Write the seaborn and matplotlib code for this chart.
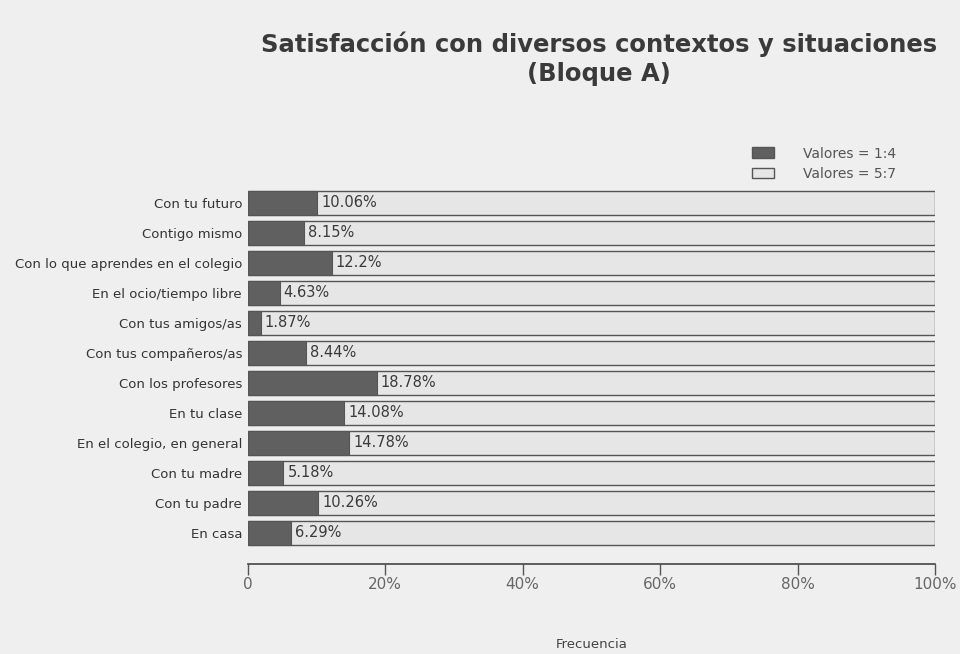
import matplotlib
matplotlib.use("Agg")
import matplotlib.pyplot as plt
import seaborn as sns
import pandas as pd
from matplotlib.patches import Patch

categorias = ["Con tu futuro", "Contigo mismo", "Con lo que aprendes en el colegio",
              "En el ocio/tiempo libre", "Con tus amigos/as", "Con tus compañeros/as",
              "Con los profesores", "En tu clase", "En el colegio, en general",
              "Con tu madre", "Con tu padre", "En casa"]
valores_1_4 = [10.06, 8.15, 12.2, 4.63, 1.87, 8.44, 18.78, 14.08, 14.78, 5.18, 10.26, 6.29]
etiquetas = ["10.06%", "8.15%", "12.2%", "4.63%", "1.87%", "8.44%", "18.78%",
             "14.08%", "14.78%", "5.18%", "10.26%", "6.29%"]
total = [100.0] * len(categorias)
ticks = [0, 20, 40, 60, 80, 100]
tick_labels = ["0", "20%", "40%", "60%", "80%", "100%"]

sns.set_style("white")
plt.rcParams['font.family'] = ['DejaVu Sans']

df = pd.DataFrame({"cat": categorias, "v": valores_1_4, "t": total})

bg = "#efefef"
fig = plt.figure(figsize=(9.6, 6.54), dpi=100, facecolor=bg)
ax = fig.add_axes([0.258, 0.137, 0.716, 0.5757])
ax.set_facecolor(bg)

sns.barplot(data=df, y="cat", x="t", orient="h", color="#e6e6e6", edgecolor="#555555",
            linewidth=1.0, width=0.8, ax=ax, saturation=1)
sns.barplot(data=df, y="cat", x="v", orient="h", color="#606060", edgecolor="#555555",
            linewidth=0.8, width=0.8, ax=ax, saturation=1)

for i, (v, lab) in enumerate(zip(valores_1_4, etiquetas)):
    ax.text(v + 0.6, i, lab, va="center", ha="left", fontsize=10.5, color="#3a3a3a")

ax.set_xlim(0, 100)
ax.set_ylim(12.05, -0.5)
ax.set_xticks(ticks)
ax.set_xticklabels(tick_labels, fontsize=11, color="#666666")
ax.tick_params(axis="x", bottom=True, direction="out", length=8, width=1,
               color="#555555", pad=1)
ax.tick_params(axis="y", left=False, length=0, pad=4, labelsize=9.5, labelcolor="#333333")
ax.set_ylabel("")
ax.set_xlabel("")
for s in ["top", "right", "left"]:
    ax.spines[s].set_visible(False)
ax.spines["bottom"].set_color("#444444")
ax.spines["bottom"].set_linewidth(1.2)

fig.text(0.616, 0.014, "Frecuencia", ha="center", va="center", fontsize=9.5, color="#444444")
fig.text(0.624, 0.91, "Satisfacción con diversos contextos y situaciones\n(Bloque A)",
         ha="center", va="center", fontsize=17.5, fontweight="bold", color="#3a3a3a",
         linespacing=1.25)

handles = [Patch(facecolor="#606060", edgecolor="#555555", label="Valores = 1:4"),
           Patch(facecolor="#e6e6e6", edgecolor="#555555", label="Valores = 5:7")]
fig.legend(handles=handles, loc="upper left", bbox_to_anchor=(0.77, 0.795), frameon=False,
           fontsize=10, labelcolor="#555555", handlelength=1.6, handleheight=0.8,
           handletextpad=2.1, labelspacing=0.45)

fig.savefig("out.png", dpi=100, facecolor=bg)
